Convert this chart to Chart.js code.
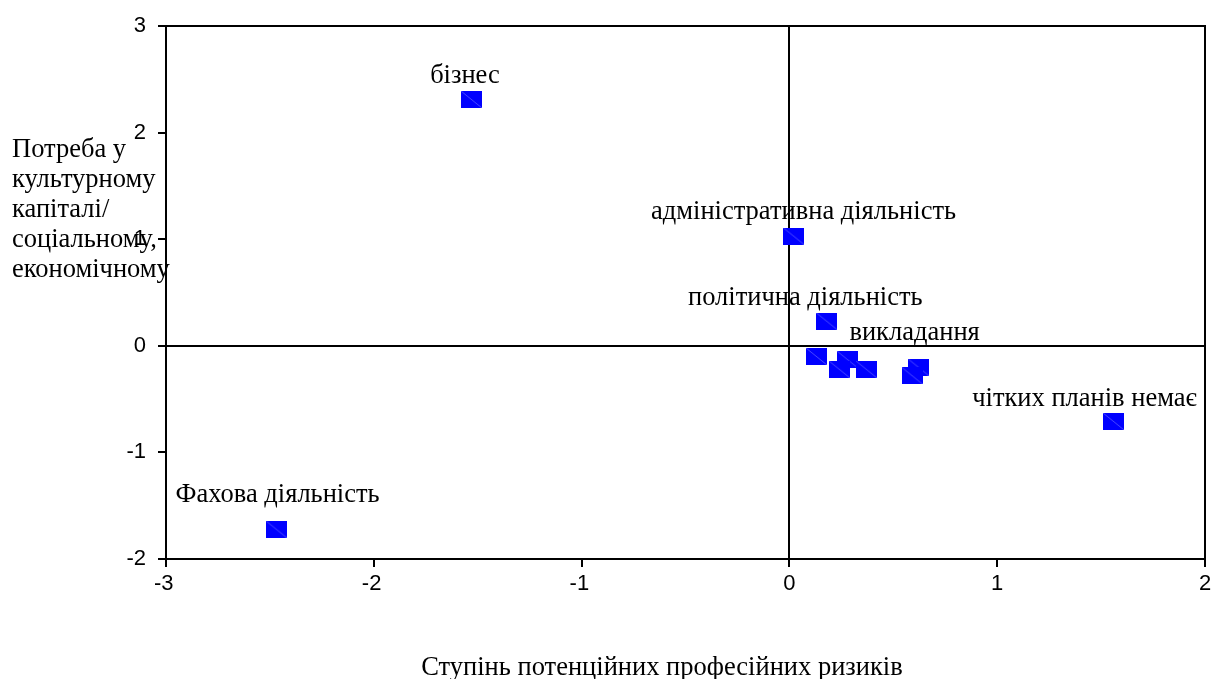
<!DOCTYPE html>
<html>
<head>
<meta charset="utf-8">
<script src="https://cdn.jsdelivr.net/npm/chart.js@4.4.1/dist/chart.umd.min.js"></script>
<style>
  html, body { margin: 0; padding: 0; background: #fff; }
  #wrap { width: 1216px; height: 679px; }
</style>
</head>
<body>
<div id="wrap"><canvas id="map"></canvas></div>
<script>
// data
const xValues = [-1.53, 0.02, 0.18, 0.13, 0.28, 0.24, 0.37, 0.62, 0.59, 1.56, -2.47];
const yValues = [2.31, 1.03, 0.23, -0.10, -0.13, -0.22, -0.22, -0.20, -0.28, -0.71, -1.72];
const pointLabels = ['бізнес', 'адміністративна діяльність', 'політична діяльність', '', 'викладання', '', '', '', '', 'чітких планів немає', 'Фахова діяльність'];
const xTicks = [-3, -2, -1, 0, 1, 2];
const yTicks = [-2, -1, 0, 1, 2, 3];
const xTitle = 'Ступінь потенційних професійних ризиків';
const yTitle = ['Потреба у', 'культурному', 'капіталі/', 'соціальному,', 'економічному'];

// label offsets from the point (px), to the text baseline
const labelOffsets = [[-6.5, -17], [10, -17.5], [-21.5, -16], [0, 0], [67, -20], [0, 0], [0, 0], [0, 0], [0, 0], [-29, -15], [1.5, -27]];

const serif = '26.5px "Liberation Serif", "Times New Roman", serif';
const sans = { family: '"Liberation Sans", Arial, sans-serif', size: 22 };

// blue square marker with the faint diagonal
function marker() {
  const c = document.createElement('canvas');
  c.width = 21; c.height = 17;
  const g = c.getContext('2d');
  g.fillStyle = '#0000ff';
  g.fillRect(0, 0, 21, 17);
  g.strokeStyle = 'rgba(150,150,255,0.8)';
  g.lineWidth = 0.6;
  g.beginPath(); g.moveTo(0, 0); g.lineTo(21, 17); g.stroke();
  return c;
}

const points = xValues.map((x, i) => ({ x: x, y: yValues[i] }));

const frame = {
  id: 'frame',
  afterDraw(chart) {
    const { ctx, chartArea: a } = chart;
    ctx.save();
    ctx.strokeStyle = '#000';
    ctx.lineWidth = 2;
    ctx.strokeRect(a.left, a.top, a.right - a.left, a.bottom - a.top);
    ctx.restore();
  }
};

const texts = {
  id: 'texts',
  afterDatasetsDraw(chart) {
    const { ctx } = chart;
    const meta = chart.getDatasetMeta(0);
    ctx.save();
    ctx.fillStyle = '#000';
    ctx.font = serif;
    ctx.textAlign = 'center';
    ctx.textBaseline = 'alphabetic';
    meta.data.forEach((el, i) => {
      if (!pointLabels[i]) return;
      const off = labelOffsets[i];
      ctx.fillText(pointLabels[i], el.x + off[0], el.y + off[1]);
    });
    ctx.fillText(xTitle, 662, 675);
    ctx.textAlign = 'left';
    yTitle.forEach((line, i) => {
      ctx.fillText(line, 12, 157 + i * 30);
    });
    ctx.restore();
  }
};

const zeroLine = c => (c.tick && c.tick.value === 0) ? '#000' : 'rgba(0,0,0,0)';
// minus sign hangs to the left of the digit, as in the original
const tickText = v => (v < 0 ? v + '\u2009' : '' + v);

new Chart(document.getElementById('map'), {
  type: 'scatter',
  data: {
    datasets: [{
      data: points,
      pointStyle: marker(),
      pointRadius: 10,
      pointHoverRadius: 10
    }]
  },
  options: {
    responsive: true,
    maintainAspectRatio: false,
    animation: false,
    layout: { padding: { top: 26, right: 9, left: 0, bottom: 0 } },
    plugins: { legend: { display: false }, tooltip: { enabled: false } },
    scales: {
      x: {
        type: 'linear',
        min: -3, max: 2,
        afterBuildTicks: s => { s.ticks = xTicks.map(v => ({ value: v })); },
        afterFit: s => { s.height = 120; s.paddingLeft = 0; s.paddingRight = 0; },
        border: { display: false },
        grid: { color: zeroLine, lineWidth: 2, tickColor: '#000', tickLength: 8, tickWidth: 2 },
        ticks: { color: '#000', padding: 4, callback: tickText, font: sans }
      },
      y: {
        type: 'linear',
        min: -2, max: 3,
        afterBuildTicks: s => { s.ticks = yTicks.map(v => ({ value: v })); },
        afterFit: s => { s.width = 166; s.paddingTop = 0; s.paddingBottom = 0; },
        border: { display: false },
        grid: { color: zeroLine, lineWidth: 2, tickColor: '#000', tickLength: 8, tickWidth: 2 },
        ticks: { color: '#000', padding: 12, callback: v => '' + v, font: sans }
      }
    }
  },
  plugins: [frame, texts]
});
</script>
</body>
</html>
